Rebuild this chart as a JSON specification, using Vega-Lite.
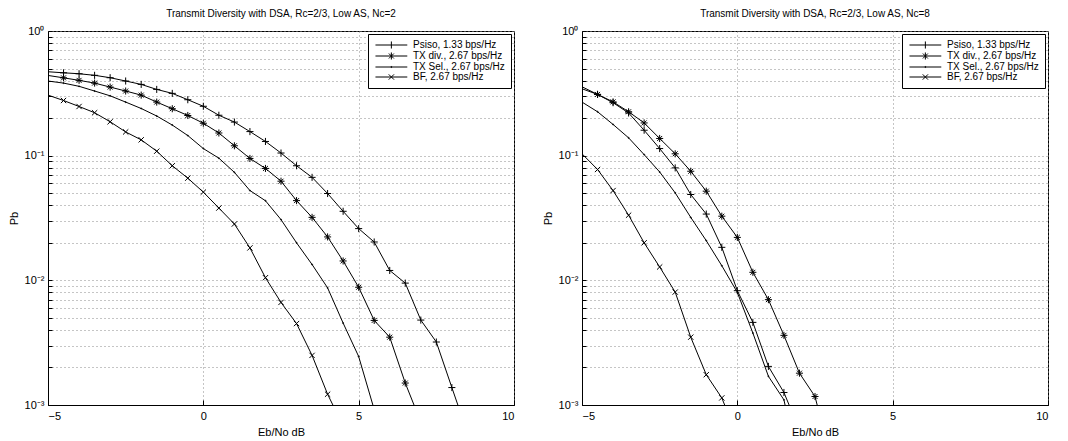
{
  "$schema": "https://vega.github.io/schema/vega-lite/v6.json",
  "padding": {"left": 7, "top": 8, "right": 5, "bottom": 5},
  "bounds": "flush",
  "spacing": 68,
  "config": {
    "font": "Liberation Sans",
    "view": {"stroke": "black", "strokeWidth": 1},
    "title": {"font": "Liberation Sans", "fontSize": 10, "fontWeight": "normal", "color": "black", "offset": 6, "anchor": "middle"},
    "axis": {"labelFont": "Liberation Sans", "labelFontSize": 11, "labelColor": "black", "titleFont": "Liberation Sans", "titleFontSize": 11, "titleFontWeight": "normal", "titleColor": "black", "domainColor": "black", "tickColor": "black", "gridColor": "#8a8a8a", "gridDash": [1, 3], "gridOpacity": 1, "gridWidth": 1}
  },
  "datasets": {
    "curves": [
      {"panel": "Nc2", "series": "Psiso, 1.33 bps/Hz", "x": -5, "p": 0.471},
      {"panel": "Nc2", "series": "Psiso, 1.33 bps/Hz", "x": -4.5, "p": 0.462},
      {"panel": "Nc2", "series": "Psiso, 1.33 bps/Hz", "x": -4, "p": 0.454},
      {"panel": "Nc2", "series": "Psiso, 1.33 bps/Hz", "x": -3.5, "p": 0.441},
      {"panel": "Nc2", "series": "Psiso, 1.33 bps/Hz", "x": -3, "p": 0.422},
      {"panel": "Nc2", "series": "Psiso, 1.33 bps/Hz", "x": -2.5, "p": 0.397},
      {"panel": "Nc2", "series": "Psiso, 1.33 bps/Hz", "x": -2, "p": 0.373},
      {"panel": "Nc2", "series": "Psiso, 1.33 bps/Hz", "x": -1.5, "p": 0.34},
      {"panel": "Nc2", "series": "Psiso, 1.33 bps/Hz", "x": -1, "p": 0.316},
      {"panel": "Nc2", "series": "Psiso, 1.33 bps/Hz", "x": -0.5, "p": 0.281},
      {"panel": "Nc2", "series": "Psiso, 1.33 bps/Hz", "x": 0, "p": 0.249},
      {"panel": "Nc2", "series": "Psiso, 1.33 bps/Hz", "x": 0.5, "p": 0.211},
      {"panel": "Nc2", "series": "Psiso, 1.33 bps/Hz", "x": 1, "p": 0.186},
      {"panel": "Nc2", "series": "Psiso, 1.33 bps/Hz", "x": 1.5, "p": 0.156},
      {"panel": "Nc2", "series": "Psiso, 1.33 bps/Hz", "x": 2, "p": 0.13},
      {"panel": "Nc2", "series": "Psiso, 1.33 bps/Hz", "x": 2.5, "p": 0.105},
      {"panel": "Nc2", "series": "Psiso, 1.33 bps/Hz", "x": 3, "p": 0.083},
      {"panel": "Nc2", "series": "Psiso, 1.33 bps/Hz", "x": 3.5, "p": 0.067},
      {"panel": "Nc2", "series": "Psiso, 1.33 bps/Hz", "x": 4, "p": 0.0497},
      {"panel": "Nc2", "series": "Psiso, 1.33 bps/Hz", "x": 4.5, "p": 0.0358},
      {"panel": "Nc2", "series": "Psiso, 1.33 bps/Hz", "x": 5, "p": 0.026},
      {"panel": "Nc2", "series": "Psiso, 1.33 bps/Hz", "x": 5.5, "p": 0.0203},
      {"panel": "Nc2", "series": "Psiso, 1.33 bps/Hz", "x": 6, "p": 0.012},
      {"panel": "Nc2", "series": "Psiso, 1.33 bps/Hz", "x": 6.5, "p": 0.0095},
      {"panel": "Nc2", "series": "Psiso, 1.33 bps/Hz", "x": 7, "p": 0.0048},
      {"panel": "Nc2", "series": "Psiso, 1.33 bps/Hz", "x": 7.5, "p": 0.0032},
      {"panel": "Nc2", "series": "Psiso, 1.33 bps/Hz", "x": 8, "p": 0.00138},
      {"panel": "Nc2", "series": "Psiso, 1.33 bps/Hz", "x": 8.5, "p": 0.0006},
      {"panel": "Nc2", "series": "TX div., 2.67 bps/Hz", "x": -5, "p": 0.44},
      {"panel": "Nc2", "series": "TX div., 2.67 bps/Hz", "x": -4.5, "p": 0.421},
      {"panel": "Nc2", "series": "TX div., 2.67 bps/Hz", "x": -4, "p": 0.402},
      {"panel": "Nc2", "series": "TX div., 2.67 bps/Hz", "x": -3.5, "p": 0.382},
      {"panel": "Nc2", "series": "TX div., 2.67 bps/Hz", "x": -3, "p": 0.355},
      {"panel": "Nc2", "series": "TX div., 2.67 bps/Hz", "x": -2.5, "p": 0.33},
      {"panel": "Nc2", "series": "TX div., 2.67 bps/Hz", "x": -2, "p": 0.306},
      {"panel": "Nc2", "series": "TX div., 2.67 bps/Hz", "x": -1.5, "p": 0.269},
      {"panel": "Nc2", "series": "TX div., 2.67 bps/Hz", "x": -1, "p": 0.238},
      {"panel": "Nc2", "series": "TX div., 2.67 bps/Hz", "x": -0.5, "p": 0.21},
      {"panel": "Nc2", "series": "TX div., 2.67 bps/Hz", "x": 0, "p": 0.182},
      {"panel": "Nc2", "series": "TX div., 2.67 bps/Hz", "x": 0.5, "p": 0.152},
      {"panel": "Nc2", "series": "TX div., 2.67 bps/Hz", "x": 1, "p": 0.12},
      {"panel": "Nc2", "series": "TX div., 2.67 bps/Hz", "x": 1.5, "p": 0.095},
      {"panel": "Nc2", "series": "TX div., 2.67 bps/Hz", "x": 2, "p": 0.079},
      {"panel": "Nc2", "series": "TX div., 2.67 bps/Hz", "x": 2.5, "p": 0.0624},
      {"panel": "Nc2", "series": "TX div., 2.67 bps/Hz", "x": 3, "p": 0.0436},
      {"panel": "Nc2", "series": "TX div., 2.67 bps/Hz", "x": 3.5, "p": 0.032},
      {"panel": "Nc2", "series": "TX div., 2.67 bps/Hz", "x": 4, "p": 0.0223},
      {"panel": "Nc2", "series": "TX div., 2.67 bps/Hz", "x": 4.5, "p": 0.0143},
      {"panel": "Nc2", "series": "TX div., 2.67 bps/Hz", "x": 5, "p": 0.0088},
      {"panel": "Nc2", "series": "TX div., 2.67 bps/Hz", "x": 5.5, "p": 0.00477},
      {"panel": "Nc2", "series": "TX div., 2.67 bps/Hz", "x": 6, "p": 0.0035},
      {"panel": "Nc2", "series": "TX div., 2.67 bps/Hz", "x": 6.5, "p": 0.0015},
      {"panel": "Nc2", "series": "TX div., 2.67 bps/Hz", "x": 7, "p": 0.00073},
      {"panel": "Nc2", "series": "TX Sel., 2.67 bps/Hz", "x": -5, "p": 0.397},
      {"panel": "Nc2", "series": "TX Sel., 2.67 bps/Hz", "x": -4.5, "p": 0.382},
      {"panel": "Nc2", "series": "TX Sel., 2.67 bps/Hz", "x": -4, "p": 0.36},
      {"panel": "Nc2", "series": "TX Sel., 2.67 bps/Hz", "x": -3.5, "p": 0.33},
      {"panel": "Nc2", "series": "TX Sel., 2.67 bps/Hz", "x": -3, "p": 0.302},
      {"panel": "Nc2", "series": "TX Sel., 2.67 bps/Hz", "x": -2.5, "p": 0.269},
      {"panel": "Nc2", "series": "TX Sel., 2.67 bps/Hz", "x": -2, "p": 0.239},
      {"panel": "Nc2", "series": "TX Sel., 2.67 bps/Hz", "x": -1.5, "p": 0.208},
      {"panel": "Nc2", "series": "TX Sel., 2.67 bps/Hz", "x": -1, "p": 0.176},
      {"panel": "Nc2", "series": "TX Sel., 2.67 bps/Hz", "x": -0.5, "p": 0.145},
      {"panel": "Nc2", "series": "TX Sel., 2.67 bps/Hz", "x": 0, "p": 0.114},
      {"panel": "Nc2", "series": "TX Sel., 2.67 bps/Hz", "x": 0.5, "p": 0.0955},
      {"panel": "Nc2", "series": "TX Sel., 2.67 bps/Hz", "x": 1, "p": 0.0735},
      {"panel": "Nc2", "series": "TX Sel., 2.67 bps/Hz", "x": 1.5, "p": 0.0525},
      {"panel": "Nc2", "series": "TX Sel., 2.67 bps/Hz", "x": 2, "p": 0.0435},
      {"panel": "Nc2", "series": "TX Sel., 2.67 bps/Hz", "x": 2.5, "p": 0.0307},
      {"panel": "Nc2", "series": "TX Sel., 2.67 bps/Hz", "x": 3, "p": 0.02},
      {"panel": "Nc2", "series": "TX Sel., 2.67 bps/Hz", "x": 3.5, "p": 0.0134},
      {"panel": "Nc2", "series": "TX Sel., 2.67 bps/Hz", "x": 4, "p": 0.0087},
      {"panel": "Nc2", "series": "TX Sel., 2.67 bps/Hz", "x": 4.5, "p": 0.00454},
      {"panel": "Nc2", "series": "TX Sel., 2.67 bps/Hz", "x": 5, "p": 0.00245},
      {"panel": "Nc2", "series": "TX Sel., 2.67 bps/Hz", "x": 5.5, "p": 0.00092},
      {"panel": "Nc2", "series": "BF, 2.67 bps/Hz", "x": -5, "p": 0.306},
      {"panel": "Nc2", "series": "BF, 2.67 bps/Hz", "x": -4.5, "p": 0.277},
      {"panel": "Nc2", "series": "BF, 2.67 bps/Hz", "x": -4, "p": 0.248},
      {"panel": "Nc2", "series": "BF, 2.67 bps/Hz", "x": -3.5, "p": 0.221},
      {"panel": "Nc2", "series": "BF, 2.67 bps/Hz", "x": -3, "p": 0.187},
      {"panel": "Nc2", "series": "BF, 2.67 bps/Hz", "x": -2.5, "p": 0.155},
      {"panel": "Nc2", "series": "BF, 2.67 bps/Hz", "x": -2, "p": 0.134},
      {"panel": "Nc2", "series": "BF, 2.67 bps/Hz", "x": -1.5, "p": 0.1086},
      {"panel": "Nc2", "series": "BF, 2.67 bps/Hz", "x": -1, "p": 0.083},
      {"panel": "Nc2", "series": "BF, 2.67 bps/Hz", "x": -0.5, "p": 0.066},
      {"panel": "Nc2", "series": "BF, 2.67 bps/Hz", "x": 0, "p": 0.051},
      {"panel": "Nc2", "series": "BF, 2.67 bps/Hz", "x": 0.5, "p": 0.038},
      {"panel": "Nc2", "series": "BF, 2.67 bps/Hz", "x": 1, "p": 0.0283},
      {"panel": "Nc2", "series": "BF, 2.67 bps/Hz", "x": 1.5, "p": 0.0182},
      {"panel": "Nc2", "series": "BF, 2.67 bps/Hz", "x": 2, "p": 0.0105},
      {"panel": "Nc2", "series": "BF, 2.67 bps/Hz", "x": 2.5, "p": 0.00665},
      {"panel": "Nc2", "series": "BF, 2.67 bps/Hz", "x": 3, "p": 0.0045},
      {"panel": "Nc2", "series": "BF, 2.67 bps/Hz", "x": 3.5, "p": 0.0025},
      {"panel": "Nc2", "series": "BF, 2.67 bps/Hz", "x": 4, "p": 0.00122},
      {"panel": "Nc2", "series": "BF, 2.67 bps/Hz", "x": 4.5, "p": 0.00068},
      {"panel": "Nc8", "series": "Psiso, 1.33 bps/Hz", "x": -5, "p": 0.344},
      {"panel": "Nc8", "series": "Psiso, 1.33 bps/Hz", "x": -4.5, "p": 0.31},
      {"panel": "Nc8", "series": "Psiso, 1.33 bps/Hz", "x": -4, "p": 0.266},
      {"panel": "Nc8", "series": "Psiso, 1.33 bps/Hz", "x": -3.5, "p": 0.22},
      {"panel": "Nc8", "series": "Psiso, 1.33 bps/Hz", "x": -3, "p": 0.16},
      {"panel": "Nc8", "series": "Psiso, 1.33 bps/Hz", "x": -2.5, "p": 0.114},
      {"panel": "Nc8", "series": "Psiso, 1.33 bps/Hz", "x": -2, "p": 0.0798},
      {"panel": "Nc8", "series": "Psiso, 1.33 bps/Hz", "x": -1.5, "p": 0.0488},
      {"panel": "Nc8", "series": "Psiso, 1.33 bps/Hz", "x": -1, "p": 0.034},
      {"panel": "Nc8", "series": "Psiso, 1.33 bps/Hz", "x": -0.5, "p": 0.0184},
      {"panel": "Nc8", "series": "Psiso, 1.33 bps/Hz", "x": 0, "p": 0.00826},
      {"panel": "Nc8", "series": "Psiso, 1.33 bps/Hz", "x": 0.5, "p": 0.0046},
      {"panel": "Nc8", "series": "Psiso, 1.33 bps/Hz", "x": 1, "p": 0.00204},
      {"panel": "Nc8", "series": "Psiso, 1.33 bps/Hz", "x": 1.5, "p": 0.00126},
      {"panel": "Nc8", "series": "Psiso, 1.33 bps/Hz", "x": 2, "p": 0.00063},
      {"panel": "Nc8", "series": "TX div., 2.67 bps/Hz", "x": -5, "p": 0.357},
      {"panel": "Nc8", "series": "TX div., 2.67 bps/Hz", "x": -4.5, "p": 0.31},
      {"panel": "Nc8", "series": "TX div., 2.67 bps/Hz", "x": -4, "p": 0.27},
      {"panel": "Nc8", "series": "TX div., 2.67 bps/Hz", "x": -3.5, "p": 0.225},
      {"panel": "Nc8", "series": "TX div., 2.67 bps/Hz", "x": -3, "p": 0.183},
      {"panel": "Nc8", "series": "TX div., 2.67 bps/Hz", "x": -2.5, "p": 0.1374},
      {"panel": "Nc8", "series": "TX div., 2.67 bps/Hz", "x": -2, "p": 0.1035},
      {"panel": "Nc8", "series": "TX div., 2.67 bps/Hz", "x": -1.5, "p": 0.075},
      {"panel": "Nc8", "series": "TX div., 2.67 bps/Hz", "x": -1, "p": 0.0519},
      {"panel": "Nc8", "series": "TX div., 2.67 bps/Hz", "x": -0.5, "p": 0.0327},
      {"panel": "Nc8", "series": "TX div., 2.67 bps/Hz", "x": 0, "p": 0.0221},
      {"panel": "Nc8", "series": "TX div., 2.67 bps/Hz", "x": 0.5, "p": 0.0116},
      {"panel": "Nc8", "series": "TX div., 2.67 bps/Hz", "x": 1, "p": 0.007},
      {"panel": "Nc8", "series": "TX div., 2.67 bps/Hz", "x": 1.5, "p": 0.00362},
      {"panel": "Nc8", "series": "TX div., 2.67 bps/Hz", "x": 2, "p": 0.0018},
      {"panel": "Nc8", "series": "TX div., 2.67 bps/Hz", "x": 2.5, "p": 0.00117},
      {"panel": "Nc8", "series": "TX div., 2.67 bps/Hz", "x": 3, "p": 0.00038},
      {"panel": "Nc8", "series": "TX Sel., 2.67 bps/Hz", "x": -5, "p": 0.269},
      {"panel": "Nc8", "series": "TX Sel., 2.67 bps/Hz", "x": -4.5, "p": 0.225},
      {"panel": "Nc8", "series": "TX Sel., 2.67 bps/Hz", "x": -4, "p": 0.178},
      {"panel": "Nc8", "series": "TX Sel., 2.67 bps/Hz", "x": -3.5, "p": 0.139},
      {"panel": "Nc8", "series": "TX Sel., 2.67 bps/Hz", "x": -3, "p": 0.102},
      {"panel": "Nc8", "series": "TX Sel., 2.67 bps/Hz", "x": -2.5, "p": 0.074},
      {"panel": "Nc8", "series": "TX Sel., 2.67 bps/Hz", "x": -2, "p": 0.0503},
      {"panel": "Nc8", "series": "TX Sel., 2.67 bps/Hz", "x": -1.5, "p": 0.032},
      {"panel": "Nc8", "series": "TX Sel., 2.67 bps/Hz", "x": -1, "p": 0.0208},
      {"panel": "Nc8", "series": "TX Sel., 2.67 bps/Hz", "x": -0.5, "p": 0.0131},
      {"panel": "Nc8", "series": "TX Sel., 2.67 bps/Hz", "x": 0, "p": 0.008},
      {"panel": "Nc8", "series": "TX Sel., 2.67 bps/Hz", "x": 0.5, "p": 0.00378},
      {"panel": "Nc8", "series": "TX Sel., 2.67 bps/Hz", "x": 1, "p": 0.0017},
      {"panel": "Nc8", "series": "TX Sel., 2.67 bps/Hz", "x": 1.5, "p": 0.0011},
      {"panel": "Nc8", "series": "TX Sel., 2.67 bps/Hz", "x": 2, "p": 0.0003},
      {"panel": "Nc8", "series": "BF, 2.67 bps/Hz", "x": -5, "p": 0.1035},
      {"panel": "Nc8", "series": "BF, 2.67 bps/Hz", "x": -4.5, "p": 0.0775},
      {"panel": "Nc8", "series": "BF, 2.67 bps/Hz", "x": -4, "p": 0.0525},
      {"panel": "Nc8", "series": "BF, 2.67 bps/Hz", "x": -3.5, "p": 0.0333},
      {"panel": "Nc8", "series": "BF, 2.67 bps/Hz", "x": -3, "p": 0.02},
      {"panel": "Nc8", "series": "BF, 2.67 bps/Hz", "x": -2.5, "p": 0.0128},
      {"panel": "Nc8", "series": "BF, 2.67 bps/Hz", "x": -2, "p": 0.00805},
      {"panel": "Nc8", "series": "BF, 2.67 bps/Hz", "x": -1.5, "p": 0.0035},
      {"panel": "Nc8", "series": "BF, 2.67 bps/Hz", "x": -1, "p": 0.00175},
      {"panel": "Nc8", "series": "BF, 2.67 bps/Hz", "x": -0.5, "p": 0.00114},
      {"panel": "Nc8", "series": "BF, 2.67 bps/Hz", "x": 0, "p": 0.00056}
    ]
  },
  "resolve": {"scale": {"shape": "independent"}, "legend": {"shape": "independent"}},
  "hconcat": [
    {
      "width": 466,
      "height": 374,
      "title": "Transmit Diversity with DSA, Rc=2/3, Low AS, Nc=2",
      "data": {"name": "curves"},
      "transform": [{"filter": "datum.panel === 'Nc2'"}],
      "encoding": {
        "x": {"field": "x", "type": "quantitative", "scale": {"domain": [-5, 10], "nice": false, "zero": false},
          "axis": {"values": [-5, 0, 5, 10], "format": "d", "grid": true, "tickSize": -5, "labelPadding": 10, "title": "Eb/No dB", "titlePadding": 5}},
        "y": {"field": "p", "type": "quantitative", "scale": {"type": "log", "domain": [0.001, 1], "nice": false},
          "axis": {"values": [0.001, 0.002, 0.003, 0.004, 0.005, 0.006, 0.007, 0.008, 0.009, 0.01, 0.02, 0.03, 0.04, 0.05, 0.06, 0.07, 0.08, 0.09, 0.1, 0.2, 0.3, 0.4, 0.5, 0.6, 0.7, 0.8, 0.9, 1],
            "grid": true, "labelOverlap": false, "tickSize": -4, "labelPadding": 8, "title": "Pb", "titlePadding": 5,
            "labelExpr": "datum.value == 1 ? '10⁰' : datum.value == 0.1 ? '10⁻¹' : datum.value == 0.01 ? '10⁻²' : datum.value == 0.001 ? '10⁻³' : ''"}}
      },
      "resolve": {"scale": {"shape": "independent"}, "legend": {"shape": "independent"}},
      "layer": [
        {"mark": {"type": "line", "color": "black", "strokeWidth": 1, "clip": true}, "encoding": {"detail": {"field": "series"}}},
        {"transform": [{"filter": "datum.x > -5"}],
         "mark": {"type": "point", "filled": false, "stroke": "black", "strokeWidth": 1, "size": 50, "opacity": 1, "clip": true},
         "encoding": {"shape": {"field": "series", "type": "nominal", "legend": null,
           "scale": {"domain": ["Psiso, 1.33 bps/Hz", "TX div., 2.67 bps/Hz", "TX Sel., 2.67 bps/Hz", "BF, 2.67 bps/Hz"],
                     "range": ["M-1,0L1,0M0,-1L0,1", "M-1,0L1,0M0,-1L0,1M-0.7,-0.7L0.7,0.7M-0.7,0.7L0.7,-0.7", "M-0.15,0A0.15,0.15 0 1,0 0.15,0A0.15,0.15 0 1,0 -0.15,0", "M-0.75,-0.75L0.75,0.75M-0.75,0.75L0.75,-0.75"]}}}
        },
        {"transform": [{"filter": "datum.x > 100"}],
         "mark": {"type": "point", "filled": false, "stroke": "black", "strokeWidth": 1, "size": 50, "opacity": 1},
         "encoding": {"shape": {"field": "series", "type": "nominal",
           "scale": {"domain": ["Psiso, 1.33 bps/Hz", "TX div., 2.67 bps/Hz", "TX Sel., 2.67 bps/Hz", "BF, 2.67 bps/Hz"],
                     "range": ["M-1,0L8,0M3.5,-1L3.5,1", "M-1,0L8,0M3.5,-1L3.5,1M2.8,-0.7L4.2,0.7M2.8,0.7L4.2,-0.7", "M-1,0L8,0M3.35,0A0.15,0.15 0 1,0 3.65,0A0.15,0.15 0 1,0 3.35,0", "M-1,0L8,0M2.75,-0.75L4.25,0.75M2.75,0.75L4.25,-0.75"]},
           "legend": {"orient": "top-right", "offset": 3, "title": null, "strokeColor": "black", "fillColor": "white", "padding": 6, "labelFont": "Liberation Sans", "labelFontSize": 10, "labelColor": "black", "symbolSize": 50, "symbolStrokeColor": "black", "symbolStrokeWidth": 1, "symbolFillColor": "transparent", "labelOffset": 29, "rowPadding": -1}}}
        }
      ]
    },
    {
      "width": 466,
      "height": 374,
      "title": "Transmit Diversity with DSA, Rc=2/3, Low AS, Nc=8",
      "data": {"name": "curves"},
      "transform": [{"filter": "datum.panel === 'Nc8'"}],
      "encoding": {
        "x": {"field": "x", "type": "quantitative", "scale": {"domain": [-5, 10], "nice": false, "zero": false},
          "axis": {"values": [-5, 0, 5, 10], "format": "d", "grid": true, "tickSize": -5, "labelPadding": 10, "title": "Eb/No dB", "titlePadding": 5}},
        "y": {"field": "p", "type": "quantitative", "scale": {"type": "log", "domain": [0.001, 1], "nice": false},
          "axis": {"values": [0.001, 0.002, 0.003, 0.004, 0.005, 0.006, 0.007, 0.008, 0.009, 0.01, 0.02, 0.03, 0.04, 0.05, 0.06, 0.07, 0.08, 0.09, 0.1, 0.2, 0.3, 0.4, 0.5, 0.6, 0.7, 0.8, 0.9, 1],
            "grid": true, "labelOverlap": false, "tickSize": -4, "labelPadding": 8, "title": "Pb", "titlePadding": 5,
            "labelExpr": "datum.value == 1 ? '10⁰' : datum.value == 0.1 ? '10⁻¹' : datum.value == 0.01 ? '10⁻²' : datum.value == 0.001 ? '10⁻³' : ''"}}
      },
      "resolve": {"scale": {"shape": "independent"}, "legend": {"shape": "independent"}},
      "layer": [
        {"mark": {"type": "line", "color": "black", "strokeWidth": 1, "clip": true}, "encoding": {"detail": {"field": "series"}}},
        {"transform": [{"filter": "datum.x > -5"}],
         "mark": {"type": "point", "filled": false, "stroke": "black", "strokeWidth": 1, "size": 50, "opacity": 1, "clip": true},
         "encoding": {"shape": {"field": "series", "type": "nominal", "legend": null,
           "scale": {"domain": ["Psiso, 1.33 bps/Hz", "TX div., 2.67 bps/Hz", "TX Sel., 2.67 bps/Hz", "BF, 2.67 bps/Hz"],
                     "range": ["M-1,0L1,0M0,-1L0,1", "M-1,0L1,0M0,-1L0,1M-0.7,-0.7L0.7,0.7M-0.7,0.7L0.7,-0.7", "M-0.15,0A0.15,0.15 0 1,0 0.15,0A0.15,0.15 0 1,0 -0.15,0", "M-0.75,-0.75L0.75,0.75M-0.75,0.75L0.75,-0.75"]}}}
        },
        {"transform": [{"filter": "datum.x > 100"}],
         "mark": {"type": "point", "filled": false, "stroke": "black", "strokeWidth": 1, "size": 50, "opacity": 1},
         "encoding": {"shape": {"field": "series", "type": "nominal",
           "scale": {"domain": ["Psiso, 1.33 bps/Hz", "TX div., 2.67 bps/Hz", "TX Sel., 2.67 bps/Hz", "BF, 2.67 bps/Hz"],
                     "range": ["M-1,0L8,0M3.5,-1L3.5,1", "M-1,0L8,0M3.5,-1L3.5,1M2.8,-0.7L4.2,0.7M2.8,0.7L4.2,-0.7", "M-1,0L8,0M3.35,0A0.15,0.15 0 1,0 3.65,0A0.15,0.15 0 1,0 3.35,0", "M-1,0L8,0M2.75,-0.75L4.25,0.75M2.75,0.75L4.25,-0.75"]},
           "legend": {"orient": "top-right", "offset": 3, "title": null, "strokeColor": "black", "fillColor": "white", "padding": 6, "labelFont": "Liberation Sans", "labelFontSize": 10, "labelColor": "black", "symbolSize": 50, "symbolStrokeColor": "black", "symbolStrokeWidth": 1, "symbolFillColor": "transparent", "labelOffset": 29, "rowPadding": -1}}}
        }
      ]
    }
  ]
}
